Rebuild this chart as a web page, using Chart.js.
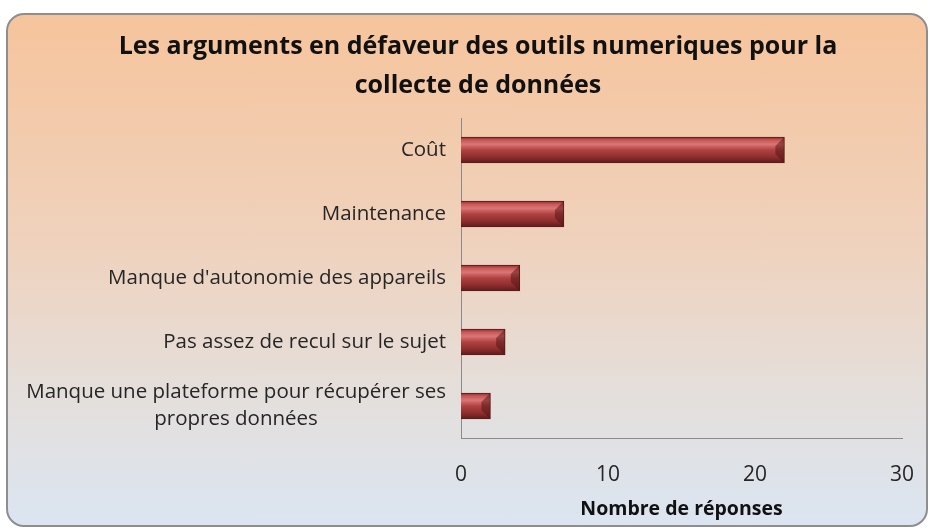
<!DOCTYPE html>
<html lang="fr">
<head>
<meta charset="UTF-8">
<title>Arguments en défaveur des outils numériques</title>
<script src="https://cdn.jsdelivr.net/npm/chart.js"></script>
<style>
    html, body {
        margin: 0;
        padding: 0;
        background: #ffffff;
        overflow: hidden;
    }
    .frame {
        position: absolute;
        left: 6px;
        top: 13px;
        width: 918px;
        height: 510px;
        border: 2px solid #8e8e8e;
        border-radius: 18px;
        background: linear-gradient(to bottom, #f6c49c 0%, #efd2bd 45%, #e4dfdc 75%, #dbe5f1 100%);
        overflow: hidden;
    }
    .frame canvas {
        position: absolute;
        left: 0;
        top: 0;
    }
</style>
</head>
<body>

<div class="frame">
    <canvas id="chartCanvas" width="918" height="510"></canvas>
</div>

<script>
const categories = [
    'Coût',
    'Maintenance',
    "Manque d'autonomie des appareils",
    'Pas assez de recul sur le sujet',
    ['Manque une plateforme pour récupérer ses', 'propres données']
];
const responses = [22, 7, 4, 3, 2];
const xTicks = [0, 10, 20, 30];

const titleLines = ['Les arguments en défaveur des outils numeriques pour la', 'collecte de données'];
const xTitle = 'Nombre de réponses';

const FONT = "'Open Sans', sans-serif";
const BAR_H = 26;

// shiny cylinder look for each bar
function barGradient(context) {
    const chart = context.chart;
    const y = chart.scales.y;
    if (!y || context.dataIndex === undefined) return '#a33a3a';
    const cy = y.getPixelForValue(context.dataIndex);
    if (!isFinite(cy)) return '#a33a3a';
    const g = chart.ctx.createLinearGradient(0, cy - BAR_H / 2, 0, cy + BAR_H / 2);
    g.addColorStop(0, '#8a2c2c');
    g.addColorStop(0.12, '#c55857');
    g.addColorStop(0.28, '#dc7674');
    g.addColorStop(0.5, '#b04242');
    g.addColorStop(0.8, '#8a2c2c');
    g.addColorStop(1, '#5a1a1a');
    return g;
}

// y labels drawn by hand so the two-line one is centred on itself
const yLabels = {
    id: 'yLabels',
    afterDraw(chart) {
        const ctx = chart.ctx;
        const y = chart.scales.y;
        const right = y.right - 15;
        ctx.save();
        ctx.font = '20.5px ' + FONT;
        ctx.fillStyle = '#262626';
        ctx.textBaseline = 'middle';
        categories.forEach((lab, i) => {
            const cy = y.getPixelForTick(i);
            if (Array.isArray(lab)) {
                const w = Math.max(...lab.map(t => ctx.measureText(t).width));
                const cx = right - w / 2;
                ctx.textAlign = 'center';
                const lh = 27;
                lab.forEach((t, k) => {
                    ctx.fillText(t, cx, cy + (k - (lab.length - 1) / 2) * lh);
                });
            } else {
                ctx.textAlign = 'right';
                ctx.fillText(lab, right, cy);
            }
        });
        ctx.restore();
    }
};

// bevelled end on the bars
const barEnds = {
    id: 'barEnds',
    afterDatasetsDraw(chart) {
        const ctx = chart.ctx;
        const meta = chart.getDatasetMeta(0);
        ctx.save();
        meta.data.forEach(bar => {
            const h = bar.height;
            const top = bar.y - h / 2;
            const bot = bar.y + h / 2;
            const d = Math.min(9, (bar.x - bar.base) / 3);
            ctx.fillStyle = 'rgba(80, 18, 18, 0.5)';
            ctx.beginPath();
            ctx.moveTo(bar.x, top);
            ctx.lineTo(bar.x - d, top + d);
            ctx.lineTo(bar.x - d, bot - d);
            ctx.lineTo(bar.x, bot);
            ctx.closePath();
            ctx.fill();
        });
        ctx.restore();
    }
};

new Chart(document.getElementById('chartCanvas'), {
    type: 'bar',
    data: {
        labels: categories,
        datasets: [{
            label: xTitle,
            data: responses,
            backgroundColor: barGradient,
            borderColor: '#5e1b1b',
            borderWidth: 1,
            barThickness: BAR_H
        }]
    },
    options: {
        indexAxis: 'y',
        responsive: false,
        animation: false,
        layout: {
            padding: { left: 46, right: 24, top: 0, bottom: 0 }
        },
        plugins: {
            legend: { display: false },
            tooltip: { enabled: false },
            title: {
                display: true,
                text: titleLines,
                color: '#111111',
                font: { family: FONT, size: 25, weight: 'bold', lineHeight: 1.56 },
                padding: { top: 12.5, bottom: 12.5 }
            }
        },
        scales: {
            x: {
                min: 0,
                max: 30,
                afterBuildTicks(scale) {
                    scale.ticks = xTicks.map(v => ({ value: v }));
                },
                afterFit(scale) {
                    scale.height = 87;
                    scale.paddingLeft = 0;
                    scale.paddingRight = 0;
                },
                grid: { display: false, drawTicks: false },
                border: { display: true, color: '#8a8a8a', width: 1 },
                ticks: {
                    color: '#262626',
                    font: { family: FONT, size: 21 },
                    padding: 24,
                    maxRotation: 0
                },
                title: {
                    display: true,
                    text: xTitle,
                    color: '#111111',
                    font: { family: FONT, size: 19.5, weight: 'bold' },
                    padding: { top: 8, bottom: 4 }
                }
            },
            y: {
                afterFit(scale) {
                    scale.width = 407;
                },
                grid: { display: false, drawTicks: false },
                border: { display: true, color: '#8a8a8a', width: 1 },
                ticks: { display: false }
            }
        }
    },
    plugins: [yLabels, barEnds]
});
</script>
</body>
</html>
